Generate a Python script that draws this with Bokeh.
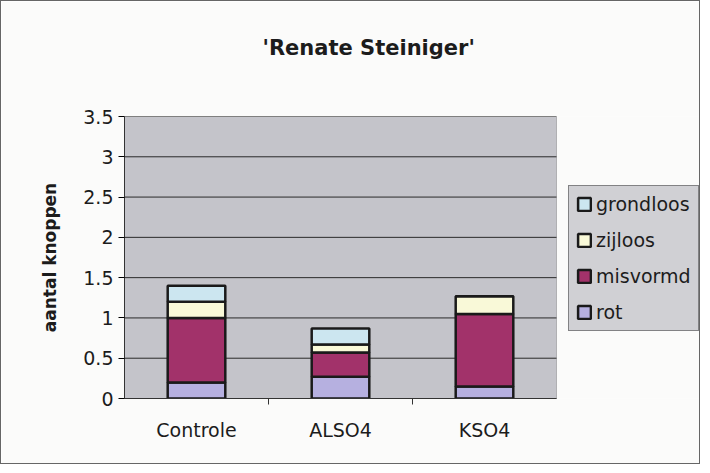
from bokeh.plotting import figure
from bokeh.models import (ColumnDataSource, FixedTicker, Legend, LegendItem, Range1d,
                          BoxAnnotation, LinearAxis)
from bokeh.embed import file_html
from bokeh.resources import INLINE

title = "'Renate Steiniger'"
y_label = "aantal knoppen"
categories = ["Controle", "ALSO4", "KSO4"]
series = ["rot", "misvormd", "zijloos", "grondloos"]
rot = [0.2, 0.27, 0.15]
misvormd = [0.8, 0.3, 0.9]
zijloos = [0.2, 0.1, 0.22]
grondloos = [0.2, 0.2, 0.0]
colors = ["#b6b0e0", "#a2326a", "#f9f9d8", "#cce6f0"]
y_ticks = [0, 0.5, 1, 1.5, 2, 2.5, 3, 3.5]
y_max = 3.5

FONT = "DejaVu Sans"
TXT = "#1c1c1c"

ncat = len(categories)
xs = [i + 0.5 for i in range(ncat)]
src = ColumnDataSource(dict(x=xs, rot=rot, misvormd=misvormd, zijloos=zijloos, grondloos=grondloos))

W, H = 700, 464
left, top, bottom = 123, 115, 67
plot_w = 432                        # pixel width of the gray plot area
frame_w = W - left
x_end = ncat * frame_w / plot_w

p = figure(width=W, height=H, output_backend="svg", toolbar_location=None,
           x_range=Range1d(0, x_end), y_range=Range1d(0, y_max),
           min_border_left=left, min_border_right=0, min_border_top=top, min_border_bottom=bottom)
p.background_fill_color = "#fbfbfa"
p.border_fill_color = "#fbfbfa"
p.outline_line_color = None
p.styles = {"border": "1px solid #666666"}

# gray plot area
p.add_layout(BoxAnnotation(left=0, right=ncat, bottom=0, top=y_max, fill_color="#c4c4ca",
                           fill_alpha=1, line_color="#444444", line_width=1, level="underlay"))
# horizontal grid lines
p.segment(x0=[0] * len(y_ticks), x1=[ncat] * len(y_ticks), y0=y_ticks, y1=y_ticks,
          line_color="#2a2a2a", line_width=1)

renderers = p.vbar_stack(series, x="x", width=0.4, source=src, fill_color=colors,
                         line_color="#1a1a1a", line_width=2.5)

# invisible spacer axis above the frame (pushes the title upward)
spacer = LinearAxis(ticker=FixedTicker(ticks=[0]), major_label_overrides={0: ""},
                    axis_line_color=None, major_label_standoff=0,
                    major_label_text_font_size="0px",
                    major_tick_out=55, major_tick_in=0, major_tick_line_color=None,
                    minor_tick_out=0, minor_tick_in=0, minor_tick_line_color=None)
p.add_layout(spacer, "above")

p.title.text = title
p.title.align = "left"
p.title.offset = 138
p.title.standoff = 4
p.title.text_font = FONT
p.title.text_font_size = "21px"
p.title.text_font_style = "bold"
p.title.text_color = TXT

p.xgrid.grid_line_color = None
p.ygrid.grid_line_color = None

# axes
p.yaxis.bounds = (0, y_max)
p.yaxis.ticker = FixedTicker(ticks=y_ticks)
p.yaxis.major_label_overrides = {t: ("%g" % t) for t in y_ticks}
p.yaxis.axis_label = y_label
p.yaxis.axis_label_text_font = FONT
p.yaxis.axis_label_text_font_size = "17px"
p.yaxis.axis_label_text_font_style = "bold"
p.yaxis.axis_label_text_color = TXT
p.yaxis.axis_label_standoff = 20
p.yaxis.major_label_text_font = FONT
p.yaxis.major_label_text_font_size = "19px"
p.yaxis.major_label_text_color = TXT
p.yaxis.major_tick_out = 6
p.yaxis.major_tick_in = 0
p.yaxis.minor_tick_line_color = None
p.yaxis.axis_line_color = "#333333"

xaxis = p.below[0]
xaxis.bounds = (0, ncat)
xaxis.ticker = FixedTicker(ticks=xs, minor_ticks=list(range(1, ncat)))
xaxis.major_label_overrides = {x: c for x, c in zip(xs, categories)}
xaxis.major_label_text_font = FONT
xaxis.major_label_text_font_size = "19px"
xaxis.major_label_text_color = TXT
xaxis.major_label_standoff = 14
xaxis.major_tick_line_color = None
xaxis.major_tick_out = 0
xaxis.major_tick_in = 0
xaxis.minor_tick_out = 6
xaxis.minor_tick_in = 0
xaxis.minor_tick_line_color = "#333333"
xaxis.axis_line_color = "#333333"

items = [LegendItem(label=s, renderers=[r]) for s, r in zip(series, renderers)][::-1]
legend = Legend(items=items, location=(444, 67),
                label_text_font=FONT, label_text_font_size="19px",
                label_text_color=TXT, glyph_width=16, glyph_height=16,
                spacing=14, label_height=21, padding=7, label_standoff=4,
                background_fill_color="#d0d0d4", background_fill_alpha=1,
                border_line_color="#333333", border_line_width=1)
p.add_layout(legend, "center")

open("out.html", "w").write(file_html(p, INLINE))
